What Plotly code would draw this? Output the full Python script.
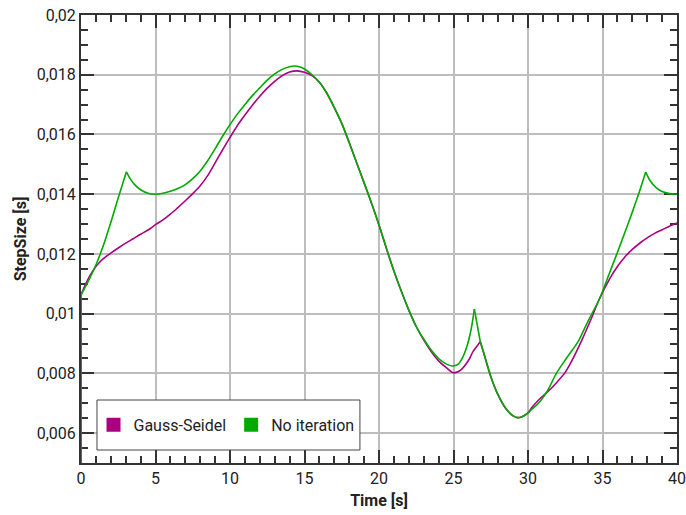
import plotly.graph_objects as go

# ---- data ----
gs_t = [0, 0, 0.25, 0.5, 0.75, 1.0, 1.25, 1.5, 2.0, 2.5, 3.0, 3.5, 4.0, 4.5, 5.0, 5.5, 6.0, 6.5, 7.0,
        7.5, 8.0, 8.5, 9.0, 9.5, 10.0, 10.5, 11.0, 11.5, 12.0, 12.5, 13.0, 13.5, 14.0, 14.5, 15.0, 15.5,
        16.0, 16.5, 17.0, 17.5, 18.0, 18.5, 19.0, 19.5, 20.0, 20.5, 21.0, 21.5, 22.0, 22.5, 23.0,
        23.5, 24.0, 24.5, 25.0, 25.5, 26.0, 26.3, 26.8, 27.0, 27.5, 28.0, 28.5, 29.0, 29.3, 29.6, 30.0,
        30.3, 30.6, 30.9, 31.2, 31.6, 32.0, 32.45, 33.0, 33.6, 34.2, 34.8, 35.5, 36.0, 36.5, 37.0, 37.6,
        38.0, 38.5, 39.0, 39.5, 40.0]
gs_step = [0.001, 0.01063, 0.01092, 0.01118, 0.0114, 0.01158, 0.01172, 0.01184, 0.01203, 0.0122,
           0.01236, 0.01251, 0.01266, 0.0128, 0.01298, 0.01314, 0.01333, 0.01355, 0.01378, 0.01402,
           0.01428, 0.01462, 0.01505, 0.01548, 0.0159, 0.0163, 0.01665, 0.01698, 0.01728, 0.01755,
           0.01778, 0.01797, 0.01809, 0.01813, 0.01808, 0.01797,
           0.01775, 0.01738, 0.0169, 0.01637, 0.01573, 0.01505, 0.01438, 0.0137, 0.01297, 0.01218,
           0.01143, 0.01075, 0.01012, 0.00957, 0.00912,
           0.00873, 0.00842, 0.0082, 0.00802, 0.00812, 0.00843, 0.00872, 0.00906, 0.00873, 0.0079,
           0.00727, 0.00683, 0.00658, 0.00652, 0.00655, 0.00668,
           0.00688, 0.00705, 0.0072, 0.00733, 0.00752, 0.00774, 0.008, 0.00848, 0.0091, 0.00978,
           0.0105, 0.01118, 0.01158, 0.0119, 0.01215, 0.0124, 0.01254, 0.01269, 0.01281, 0.01293, 0.01304]

ni_t = [0, 0, 0.5, 1.0, 1.5, 2.0, 2.5, 3.05, 3.3, 3.6, 4.0, 4.5, 5.0, 5.5, 6.0, 6.5, 7.0, 7.5,
        8.0, 8.5, 9.0, 9.5, 10.0, 10.5, 11.0, 11.5, 12.0, 12.5, 13.0, 13.5, 14.0, 14.3, 14.7, 15.0, 15.5,
        16.0, 16.5, 17.0, 17.5, 18.0, 18.5, 19.0, 19.5, 20.0, 20.5, 21.0, 21.5, 22.0, 22.5, 23.0,
        23.5, 24.0, 24.5, 24.9, 25.3, 25.6, 25.9, 26.2, 26.4, 26.8, 27.0, 27.5, 28.0, 28.5, 29.0, 29.3,
        29.6, 30.0, 30.3, 30.6, 30.9, 31.2, 31.5, 31.9, 32.5, 33.0, 33.4, 34.0, 34.8, 35.5, 36.0, 36.5,
        37.0, 37.5, 37.9, 38.2, 38.6, 39.0, 39.5, 40.0]
ni_step = [0.001, 0.01063, 0.0111, 0.01163, 0.01228, 0.01305, 0.01388, 0.01475, 0.01452, 0.01432,
           0.01415, 0.01403, 0.014, 0.01403, 0.0141, 0.01419, 0.01432, 0.01452,
           0.01478, 0.01512, 0.01552, 0.01594, 0.01633, 0.01669, 0.017, 0.0173, 0.01756, 0.01782,
           0.01803, 0.01818, 0.01827, 0.01829, 0.01826, 0.01819, 0.018,
           0.01775, 0.01738, 0.0169, 0.01637, 0.01573, 0.01505, 0.01438, 0.0137, 0.01297, 0.01218,
           0.01143, 0.01075, 0.01012, 0.00957, 0.00915,
           0.00878, 0.0085, 0.00832, 0.00825, 0.0083, 0.00852, 0.0089, 0.00952, 0.01015, 0.00906,
           0.00873, 0.0079, 0.00727, 0.00683, 0.00658, 0.00652,
           0.00655, 0.00668, 0.00682, 0.00695, 0.00712, 0.00733, 0.0076, 0.008, 0.00845, 0.0088,
           0.0091, 0.00972, 0.0105, 0.0114, 0.01205, 0.01272, 0.0134, 0.01412, 0.01474, 0.01445,
           0.01422, 0.01409, 0.01402, 0.014]

# times where the curves have sharp corners (step-size resets)
gs_corners = [26.8]
ni_corners = [3.05, 26.4, 26.8, 37.9]

series_names = ["Gauss-Seidel", "No iteration"]
series_colors = ["#AA0082", "#00AA00"]

x_tickvals = [0, 5, 10, 15, 20, 25, 30, 35, 40]
x_ticktext = ["0", "5", "10", "15", "20", "25", "30", "35", "40"]
y_tickvals = [0.006, 0.008, 0.010, 0.012, 0.014, 0.016, 0.018, 0.020]
y_ticktext = ["0,006", "0,008", "0,01", "0,012", "0,014", "0,016", "0,018", "0,02"]


def split_segments(t, s, corners):
    # first segment: the initial vertical jump at t=0 (points 0 and 1)
    cuts = [1] + [t.index(c) for c in corners] + [len(t) - 1]
    segs = [(t[0:2], s[0:2])]
    for a, b in zip(cuts[:-1], cuts[1:]):
        segs.append((t[a:b + 1], s[a:b + 1]))
    return segs


fig = go.Figure()
for t, s, corners, name, col in [(gs_t, gs_step, gs_corners, series_names[0], series_colors[0]),
                                 (ni_t, ni_step, ni_corners, series_names[1], series_colors[1])]:
    for st, ss in split_segments(t, s, corners):
        fig.add_trace(go.Scatter(x=st, y=ss, mode="lines",
                                 line=dict(color=col, width=1.6, shape="spline", smoothing=0.8),
                                 showlegend=False, name=name, hoverinfo="x+y+name"))
for name, col in zip(series_names, series_colors):
    fig.add_trace(go.Scatter(x=[None], y=[None], mode="markers", name=name,
                             marker=dict(symbol="square", size=14, color=col)))

FONT = "Roboto"
axis_common = dict(
    showline=True, linecolor="#333333", linewidth=2, mirror="ticks",
    ticks="inside", ticklen=13, tickwidth=1.5, tickcolor="#333333",
    showgrid=True, gridcolor="#bdbdbd", gridwidth=1.5, zeroline=False,
    tickfont=dict(family=FONT, size=16, color="#222222"),
    automargin=False, layer="below traces", ticklabeloverflow="allow",
)

fig.update_layout(
    width=686, height=515,
    margin=dict(l=81, r=9, t=15, b=52),
    paper_bgcolor="white", plot_bgcolor="white",
    font=dict(family=FONT, color="#222222"),
    showlegend=True,
    legend=dict(x=0.021, y=0.085, xanchor="left", yanchor="middle", orientation="h",
                bgcolor="rgba(0,0,0,0)", borderwidth=0,
                font=dict(family=FONT, size=16, color="#222222"),
                itemwidth=30),
    shapes=[dict(type="rect", xref="paper", yref="paper", x0=0.0268, x1=0.468, y0=0.029, y1=0.1406,
                 line=dict(color="#444444", width=1), fillcolor="white", layer="above")],
    xaxis=dict(range=[0, 40], tickvals=x_tickvals, ticktext=x_ticktext,
               minor=dict(dtick=1, ticks="inside", ticklen=7, tickcolor="#333333", showgrid=False),
               title=dict(text="<b>Time [s]</b>", font=dict(family=FONT, size=16), standoff=8),
               **axis_common),
    yaxis=dict(range=[0.005, 0.02], tickvals=y_tickvals, ticktext=y_ticktext,
               minor=dict(dtick=0.0005, ticks="inside", ticklen=7, tickcolor="#333333", showgrid=False),
               title=dict(text="<b>StepSize [s]</b>", font=dict(family=FONT, size=16), standoff=6),
               **axis_common),
)

fig.write_html("out.html", config={"displayModeBar": False},
               post_script="document.body.style.margin='0';document.body.style.overflow='hidden';")
